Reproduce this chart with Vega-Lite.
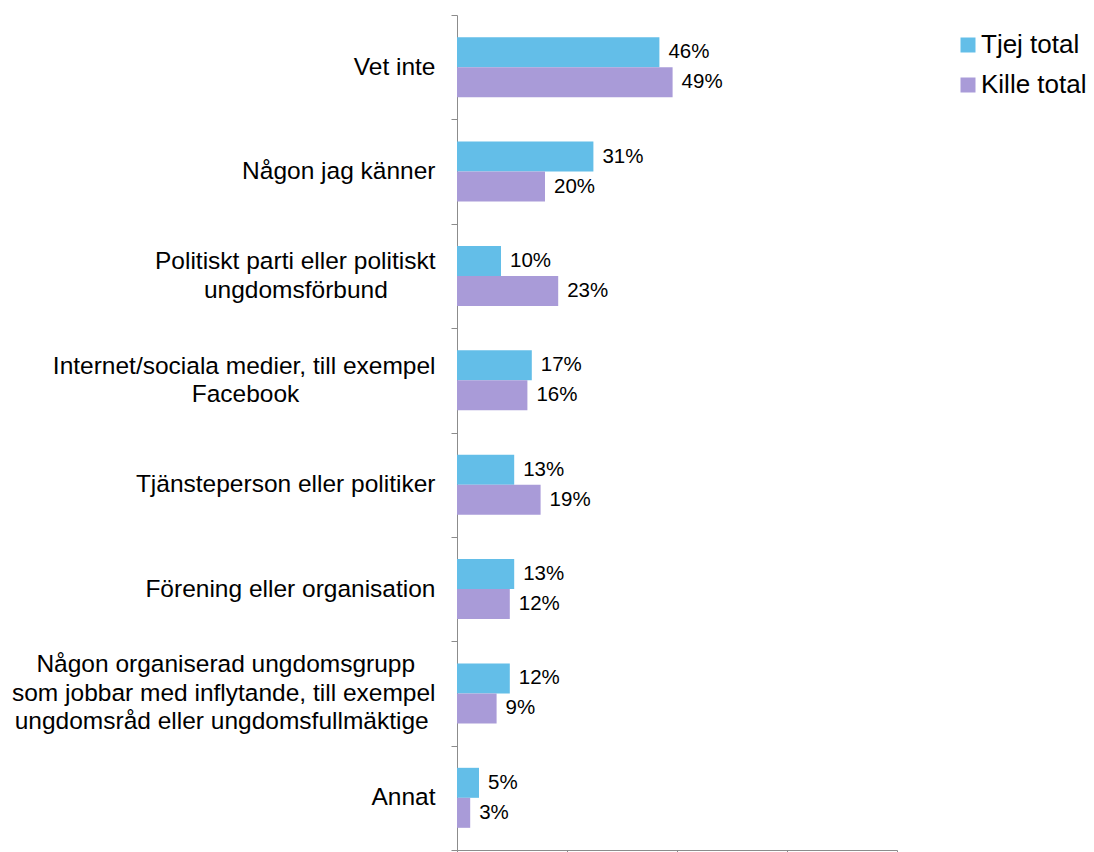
{
  "$schema": "https://vega.github.io/schema/vega-lite/v6.json",
  "width": 440,
  "height": 835,
  "autosize": {"type": "none"},
  "padding": {"left": 457, "top": 15, "right": 197, "bottom": 2},
  "background": "white",
  "config": {"view": {"stroke": null}, "font": "Liberation Sans"},
  "data": {
    "values": [
      {"kategori": "Vet inte", "grupp": "Tjej total", "andel": 0.46},
      {"kategori": "Vet inte", "grupp": "Kille total", "andel": 0.49},
      {"kategori": "Någon jag känner", "grupp": "Tjej total", "andel": 0.31},
      {"kategori": "Någon jag känner", "grupp": "Kille total", "andel": 0.20},
      {"kategori": "Politiskt parti eller politiskt ungdomsförbund", "grupp": "Tjej total", "andel": 0.10},
      {"kategori": "Politiskt parti eller politiskt ungdomsförbund", "grupp": "Kille total", "andel": 0.23},
      {"kategori": "Internet/sociala medier, till exempel Facebook", "grupp": "Tjej total", "andel": 0.17},
      {"kategori": "Internet/sociala medier, till exempel Facebook", "grupp": "Kille total", "andel": 0.16},
      {"kategori": "Tjänsteperson eller politiker", "grupp": "Tjej total", "andel": 0.13},
      {"kategori": "Tjänsteperson eller politiker", "grupp": "Kille total", "andel": 0.19},
      {"kategori": "Förening eller organisation", "grupp": "Tjej total", "andel": 0.13},
      {"kategori": "Förening eller organisation", "grupp": "Kille total", "andel": 0.12},
      {"kategori": "Någon organiserad ungdomsgrupp som jobbar med inflytande, till exempel ungdomsråd eller ungdomsfullmäktige", "grupp": "Tjej total", "andel": 0.12},
      {"kategori": "Någon organiserad ungdomsgrupp som jobbar med inflytande, till exempel ungdomsråd eller ungdomsfullmäktige", "grupp": "Kille total", "andel": 0.09},
      {"kategori": "Annat", "grupp": "Tjej total", "andel": 0.05},
      {"kategori": "Annat", "grupp": "Kille total", "andel": 0.03}
    ]
  },
  "encoding": {
    "y": {
      "field": "kategori",
      "type": "nominal",
      "sort": [
        "Vet inte",
        "Någon jag känner",
        "Politiskt parti eller politiskt ungdomsförbund",
        "Internet/sociala medier, till exempel Facebook",
        "Tjänsteperson eller politiker",
        "Förening eller organisation",
        "Någon organiserad ungdomsgrupp som jobbar med inflytande, till exempel ungdomsråd eller ungdomsfullmäktige",
        "Annat"
      ],
      "scale": {"paddingInner": 0, "paddingOuter": 0},
      "axis": {
        "title": null,
        "tickBand": "extent",
        "tickSize": 6,
        "tickColor": "#8c8c8c",
        "domainColor": "#8c8c8c",
        "labelPadding": 16,
        "labelFontSize": 24.5,
        "labelFont": "Liberation Sans",
        "labelColor": "#000000",
        "labelLimit": 1000,
        "labelLineHeight": 28.5,
        "labelAlign": "right",
        "labelBaseline": "middle",
        "labelOffset": {"expr": "datum.value == 'Någon organiserad ungdomsgrupp som jobbar med inflytande, till exempel ungdomsråd eller ungdomsfullmäktige' ? -28.5 : (datum.value == 'Politiskt parti eller politiskt ungdomsförbund' || datum.value == 'Internet/sociala medier, till exempel Facebook') ? -14.25 : 0"},
        "labelExpr": "datum.value == 'Politiskt parti eller politiskt ungdomsförbund' ? ['Politiskt parti eller politiskt', 'ungdomsförbund\u00a0\u00a0\u00a0\u00a0\u00a0\u00a0\u00a0\u200b'] : datum.value == 'Internet/sociala medier, till exempel Facebook' ? ['Internet/sociala medier, till exempel', 'Facebook\u00a0\u00a0\u00a0\u00a0\u00a0\u00a0\u00a0\u00a0\u00a0\u00a0\u00a0\u00a0\u00a0\u00a0\u00a0\u00a0\u00a0\u00a0\u00a0\u00a0\u200b'] : datum.value == 'Någon organiserad ungdomsgrupp som jobbar med inflytande, till exempel ungdomsråd eller ungdomsfullmäktige' ? ['Någon organiserad ungdomsgrupp\u00a0\u00a0\u00a0\u200b', 'som jobbar med inflytande, till exempel', 'ungdomsråd eller ungdomsfullmäktige\u00a0\u200b'] : datum.value"
      }
    },
    "yOffset": {
      "field": "grupp",
      "type": "nominal",
      "sort": ["Tjej total", "Kille total"],
      "scale": {"paddingInner": 0, "paddingOuter": 0.7396}
    },
    "x": {
      "field": "andel",
      "type": "quantitative",
      "scale": {"domain": [0, 1], "nice": false},
      "axis": {
        "title": null,
        "labels": false,
        "grid": false,
        "values": [0, 0.25, 0.5, 0.75, 1],
        "tickSize": 5,
        "tickColor": "#8c8c8c",
        "domainColor": "#8c8c8c"
      }
    }
  },
  "layer": [
    {
      "mark": {"type": "bar"},
      "encoding": {
        "color": {
          "field": "grupp",
          "type": "nominal",
          "scale": {"domain": ["Tjej total", "Kille total"], "range": ["#63BEE8", "#A99BD8"]},
          "legend": {
            "orient": "none",
            "legendX": 498,
            "legendY": 17,
            "title": null,
            "symbolType": "square",
            "symbolSize": 225,
            "symbolStrokeWidth": 0,
            "labelFontSize": 26,
            "labelFont": "Liberation Sans",
            "labelColor": "#000000",
            "labelOffset": 0,
            "rowPadding": 14,
            "padding": 0
          }
        }
      }
    },
    {
      "mark": {"type": "text", "align": "left", "baseline": "middle", "dx": 9, "fontSize": 20.5, "font": "Liberation Sans", "color": "#000000"},
      "encoding": {"text": {"field": "andel", "type": "quantitative", "format": ".0%"}}
    }
  ]
}
